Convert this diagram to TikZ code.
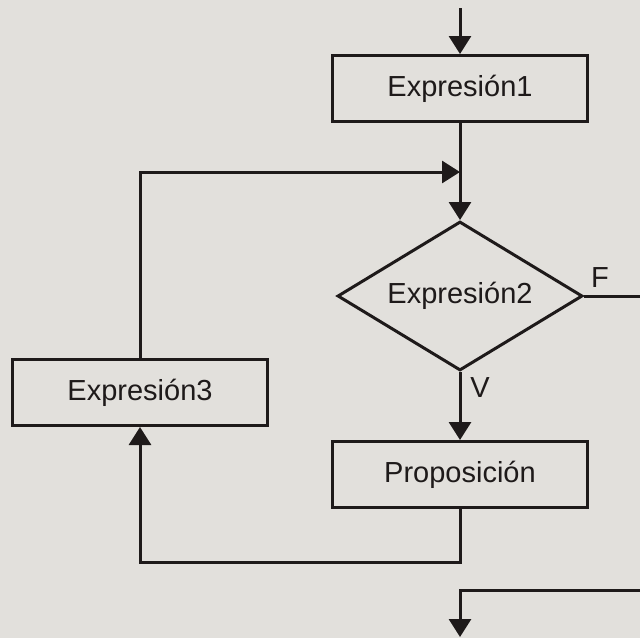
\documentclass[tikz,border=0pt]{standalone}
\usepackage{fontspec}
\setmainfont{Liberation Sans}
\usetikzlibrary{shapes.geometric,arrows.meta}
\definecolor{paper}{RGB}{226,224,220}
\definecolor{ink}{RGB}{30,26,26}
\tikzset{
  flow/.style={line width=3pt, draw=ink},
  arr/.style={flow, -{Triangle[length=18pt,width=22pt]}},
  procbox/.style={draw=ink, line width=3pt, rectangle, minimum width=255pt,
    minimum height=66pt, inner sep=0pt, font=\fontsize{29}{34}\selectfont, text=ink},
  decision/.style={draw=ink, line width=3pt, diamond, aspect=1.64, minimum width=245pt,
    minimum height=149pt, inner sep=0pt, font=\fontsize{29}{34}\selectfont, text=ink},
  lbl/.style={font=\fontsize{29}{34}\selectfont, text=ink, inner sep=0pt}
}
\begin{document}
\begin{tikzpicture}[x=1pt,y=-1pt]
  % canvas
  \fill[paper] (0,0) rectangle (640,638);
  \useasboundingbox (0,0) rectangle (640,638);

  % nodes
  \coordinate (start) at (460,8);
  \node[procbox] (e1) at (460,88.5) {Expresión1};
  \coordinate (merge) at (460,172);
  \node[decision] (cond) at (460,296) {Expresión2};
  \coordinate (fout) at (640,296);
  \node[procbox] (e3) at (140,392.5) {Expresión3};
  \node[procbox] (body) at (460,474.5) {Proposición};
  \coordinate (lowR) at (460,562);
  \coordinate (lowL) at (140,562);
  \coordinate (upL) at (140,172);
  \coordinate (exitR) at (640,590);
  \coordinate (exitC) at (460,590);
  \coordinate (finish) at (460,637);

  % labels
  \node[lbl] (flab) at (600,278) {F};
  \node[lbl] (vlab) at (480,388) {V};

  % connectors
  \draw[arr] (start) -- (e1.north);
  \draw[arr] (e1.south) -- (cond.north);
  \draw[arr] (e3.north) -- (upL) -- (merge);
  \draw[flow] (cond.east) -- (fout);
  \draw[arr] (cond.south) -- (body.north);
  \draw[arr] (body.south) -- (lowR) -- (lowL) -- (e3.south);
  \draw[arr] (exitR) -- (exitC) -- (finish);
\end{tikzpicture}
\end{document}
